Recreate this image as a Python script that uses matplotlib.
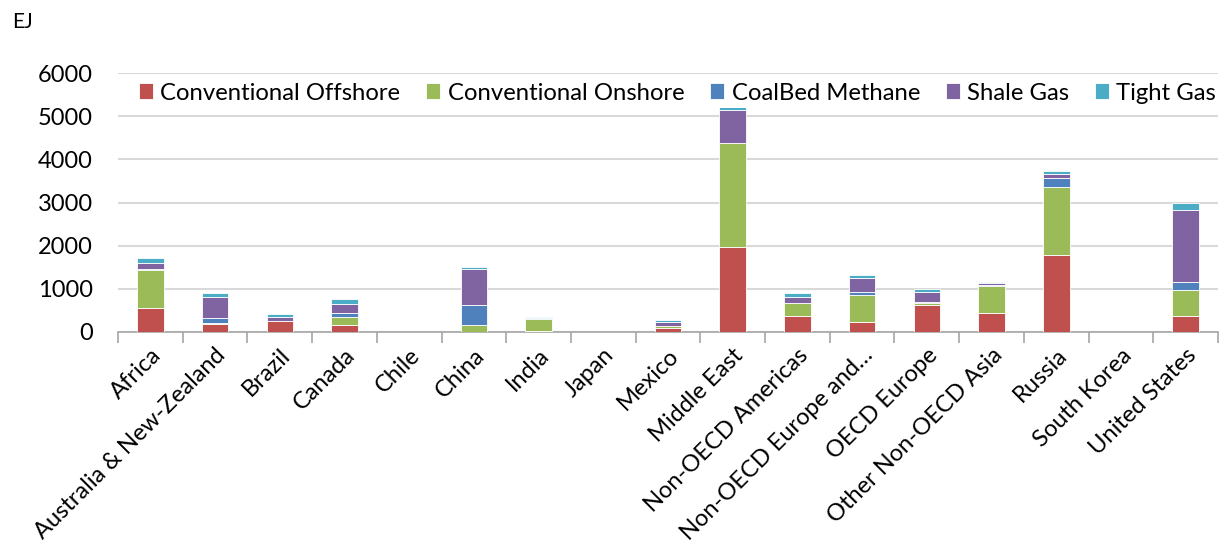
import matplotlib
matplotlib.use("Agg")
import matplotlib.pyplot as plt
import numpy as np

categories = ["Africa", "Australia & New-Zealand", "Brazil", "Canada", "Chile", "China",
              "India", "Japan", "Mexico", "Middle East", "Non-OECD Americas",
              "Non-OECD Europe and…", "OECD Europe", "Other Non-OECD Asia", "Russia",
              "South Korea", "United States"]
series_names = ["Conventional Offshore", "Conventional Onshore", "CoalBed Methane", "Shale Gas", "Tight Gas"]
offshore = [550, 178, 248, 163, 5, 10, 15, 3, 85, 1969, 364, 233, 620, 450, 1783, 3, 380]
onshore  = [876, 22, 5, 178, 5, 153, 287, 2, 47, 2403, 310, 620, 47, 620, 1581, 2, 589]
coalbed  = [39, 126, 0, 101, 0, 457, 31, 0, 8, 0, 8, 85, 38, 15, 194, 0, 178]
shale    = [132, 480, 93, 217, 0, 837, 0, 0, 85, 760, 132, 310, 225, 39, 109, 0, 1682]
tight    = [108, 101, 62, 101, 0, 39, 10, 0, 62, 93, 93, 62, 62, 31, 54, 0, 163]
colors = ["#C0504D", "#9BBB59", "#4F81BD", "#8064A2", "#4BACC6"]

plt.rcParams['font.family'] = ['Lato', 'DejaVu Sans']
fig = plt.figure(figsize=(12.26, 5.6), dpi=100)
ax = fig.add_axes([118/1226, 1-332/560, (1218-118)/1226, (332-73)/560])

x = np.arange(len(categories))
bottom = np.zeros(len(categories))
for name, vals, c in zip(series_names, [offshore, onshore, coalbed, shale, tight], colors):
    v = np.array(vals, dtype=float)
    ax.bar(x, v, bottom=bottom, width=0.41, color=c, label=name, edgecolor="white", linewidth=0.6, zorder=3)
    bottom += v

ax.set_xlim(-0.5, len(categories) - 0.5)
ax.set_ylim(0, 6000)
ax.set_yticks(range(0, 6001, 1000))
ax.yaxis.grid(True, color="#d9d9d9", linewidth=1.5, zorder=0)
ax.tick_params(axis='y', length=0, labelsize=17, pad=18)
ax.set_xticks(x)
ax.set_xticklabels(categories, rotation=45, ha="right", rotation_mode="anchor", fontsize=17)
ax.tick_params(axis='x', which='major', length=0, pad=9)
ax.set_xticks(np.arange(-0.5, len(categories), 1), minor=True)
ax.tick_params(axis='x', which='minor', length=8, width=1.2, color="#a6a6a6")
for s in ["top", "right", "left"]:
    ax.spines[s].set_visible(False)
ax.spines["bottom"].set_color("#a6a6a6")
ax.spines["bottom"].set_linewidth(1.2)

fig.text(12/1226, 1-22/560, "EJ", fontsize=15, va="center", ha="left")

leg = ax.legend(loc="center left", bbox_to_anchor=(16/1100, (332-93)/259), ncol=5, frameon=True, fontsize=17.2,
                handlelength=0.6, handleheight=0.6, handletextpad=0.3, columnspacing=1.08,
                borderaxespad=0, borderpad=0.2)
leg.get_frame().set_edgecolor("none")
leg.get_frame().set_facecolor("white")
leg.get_frame().set_alpha(1)

fig.savefig("out.png", dpi=100)
